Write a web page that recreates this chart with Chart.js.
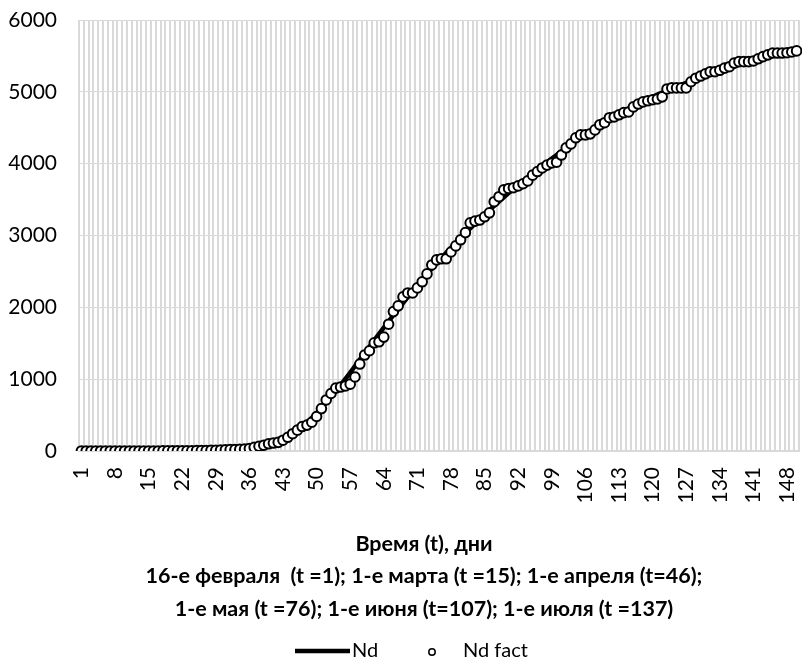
<!DOCTYPE html>
<html>
<head>
<meta charset="utf-8">
<script src="https://cdn.jsdelivr.net/npm/chart.js@4.4.1/dist/chart.umd.min.js"></script>
<style>
  html, body { margin: 0; padding: 0; background: #fff; }
  #wrap { width: 802px; height: 663px; }
</style>
</head>
<body>
<div id="wrap"><canvas id="myChart" width="802" height="663"></canvas></div>
<script>
// days t = 1..150
const days = [];
for (let i = 1; i <= 150; i++) days.push(String(i));

// which day labels are printed under the axis
const shownDays = ['1', '8', '15', '22', '29', '36', '43', '50', '57', '64', '71', '78', '85', '92', '99',
  '106', '113', '120', '127', '134', '141', '148'];

const yTicks = [0, 1000, 2000, 3000, 4000, 5000, 6000];

// observed values (circles)
const ndFact = [
  0, 0, 0, 0, 0, 0, 0, 0, 0, 0,
  0, 0, 0, 0, 0, 0, 0, 1, 1, 1,
  2, 2, 3, 3, 4, 5, 6, 8, 10, 12,
  15, 18, 20, 22, 25, 35, 50, 65, 80, 100,
  110, 120, 150, 190, 240, 290, 340, 360, 400, 480,
  590, 710, 800, 875, 890, 905, 930, 1030, 1210, 1335,
  1395, 1505, 1520, 1585, 1765, 1940, 2020, 2145, 2200, 2200,
  2270, 2355, 2465, 2590, 2660, 2675, 2675, 2770, 2855, 2940,
  3040, 3175, 3200, 3215, 3260, 3315, 3470, 3540, 3635, 3655,
  3665, 3690, 3720, 3760, 3840, 3890, 3940, 3980, 4010, 4020,
  4120, 4220, 4275, 4360, 4400, 4400, 4415, 4470, 4540, 4570,
  4640, 4650, 4680, 4710, 4720, 4790, 4830, 4860, 4875, 4890,
  4900, 4930, 5040, 5055, 5055, 5055, 5055, 5140, 5190, 5220,
  5250, 5280, 5280, 5300, 5330, 5350, 5400, 5420, 5420, 5420,
  5430, 5460, 5490, 5515, 5540, 5540, 5540, 5545, 5555, 5570
];

// model curve (thick line)
const nd = [
  0, 0, 0, 0, 0, 0, 0, 0, 0, 0,
  0, 0, 0, 0, 0, 0, 0, 0, 0, 0,
  1, 1, 2, 2, 3, 4, 5, 6, 8, 10,
  12, 14, 17, 20, 24, 28, 37, 49, 64, 83,
  106, 133, 165, 202, 244, 291, 343, 400, 462, 529,
  600, 675, 753, 834, 918, 1004, 1092, 1181, 1271, 1361,
  1451, 1541, 1630, 1718, 1805, 1891, 1976, 2060, 2143, 2225,
  2305, 2384, 2462, 2538, 2613, 2686, 2758, 2828, 2897, 2965,
  3032, 3098, 3163, 3227, 3290, 3352, 3413, 3473, 3532, 3590,
  3647, 3703, 3758, 3812, 3865, 3917, 3968, 4018, 4070, 4121,
  4171, 4220, 4268, 4315, 4361, 4406, 4450, 4493, 4535, 4576,
  4616, 4655, 4693, 4730, 4766, 4801, 4835, 4868, 4900, 4931,
  4961, 4990, 5018, 5045, 5072, 5098, 5124, 5149, 5174, 5198,
  5222, 5245, 5268, 5290, 5312, 5333, 5354, 5374, 5394, 5413,
  5432, 5450, 5468, 5485, 5502, 5518, 5534, 5549, 5564, 5578
];

const titleLines = [
  'Время (t), дни',
  '16-е февраля  (t =1); 1-е марта (t =15); 1-е апреля (t=46);',
  '1-е мая (t =76); 1-е июня (t=107); 1-е июля (t =137)'
];

const FONT = 'Lato, "Open Sans", sans-serif';

// axis title + legend drawn under the plot
const bottomText = {
  id: 'bottomText',
  afterDraw(chart) {
    const c = chart.ctx;
    const area = chart.chartArea;
    const cx = 424;
    c.save();
    c.fillStyle = '#000';
    c.textBaseline = 'middle';
    c.textAlign = 'center';
    c.font = 'bold 21.5px ' + FONT;
    titleLines.forEach((t, i) => c.fillText(t, cx, area.bottom + 93 + i * 32.5));

    // legend
    const ly = area.bottom + 200;
    c.textAlign = 'left';
    c.font = '20px ' + FONT;
    c.strokeStyle = '#000';
    c.lineWidth = 4.5;
    c.beginPath();
    c.moveTo(295, ly);
    c.lineTo(350, ly);
    c.stroke();
    c.fillText(chart.data.datasets[0].label, 352, ly);
    c.lineWidth = 1.5;
    c.fillStyle = '#fff';
    c.beginPath();
    c.arc(432, ly + 1, 3.2, 0, Math.PI * 2);
    c.fill();
    c.stroke();
    c.fillStyle = '#000';
    c.fillText(chart.data.datasets[1].label, 463, ly);
    c.restore();
  }
};

const ctx = document.getElementById('myChart').getContext('2d');
let myChart = new Chart(ctx, {
  type: 'line',
  data: {
    labels: days,
    datasets: [{
      label: 'Nd',
      data: nd,
      borderColor: '#000',
      borderWidth: 4.5,
      pointRadius: 0,
      cubicInterpolationMode: 'monotone',
      order: 2
    }, {
      label: 'Nd fact',
      data: ndFact,
      showLine: false,
      borderColor: '#000',
      backgroundColor: '#fff',
      pointRadius: 4.8,
      pointBorderWidth: 2,
      pointBackgroundColor: '#fff',
      pointBorderColor: '#000',
      order: 1
    }]
  },
  options: {
    responsive: false,
    animation: false,
    devicePixelRatio: 1,
    layout: { autoPadding: false, padding: { left: 7, right: 3, top: 20, bottom: 143.5 } },
    plugins: {
      legend: { display: false },
      tooltip: { enabled: false }
    },
    scales: {
      x: {
        offset: true,
        grid: { color: '#d9d9d9', lineWidth: 2, offset: true, drawTicks: false },
        border: { color: '#d9d9d9', width: 2 },
        ticks: {
          autoSkip: false,
          minRotation: 90,
          maxRotation: 90,
          padding: 16,
          color: '#000',
          font: { family: FONT, size: 21 },
          callback: function (value) {
            const lbl = this.getLabelForValue(value);
            return shownDays.includes(lbl) ? lbl : '';
          }
        },
        afterFit: (scale) => { scale.paddingLeft = 0; scale.paddingRight = 0; }
      },
      y: {
        min: yTicks[0],
        max: yTicks[yTicks.length - 1],
        afterBuildTicks: (scale) => { scale.ticks = yTicks.map(v => ({ value: v })); },
        grid: { color: '#d9d9d9', drawTicks: false },
        border: { display: false },
        ticks: {
          padding: 22,
          color: '#000',
          font: { family: FONT, size: 21 },
          callback: (v) => String(v)
        },
        afterFit: (scale) => { scale.width = 72; scale.paddingTop = 10; scale.paddingBottom = 10; }
      }
    }
  },
  plugins: [bottomText]
});
</script>
</body>
</html>
